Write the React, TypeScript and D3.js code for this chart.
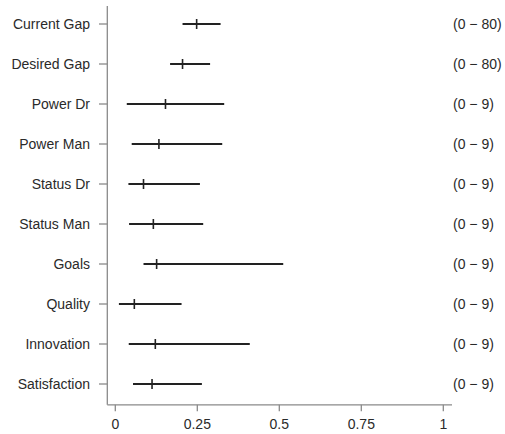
import React from "react";
import * as d3 from "d3";

const categories = ["Current Gap", "Desired Gap", "Power Dr", "Power Man", "Status Dr", "Status Man", "Goals", "Quality", "Innovation", "Satisfaction"];
const lows = [0.205, 0.167, 0.035, 0.050, 0.040, 0.042, 0.086, 0.011, 0.041, 0.054];
const highs = [0.321, 0.289, 0.332, 0.326, 0.258, 0.268, 0.512, 0.202, 0.410, 0.264];
const means = [0.248, 0.205, 0.153, 0.133, 0.086, 0.116, 0.126, 0.058, 0.122, 0.112];
const ranges = ["(0 − 80)", "(0 − 80)", "(0 − 9)", "(0 − 9)", "(0 − 9)", "(0 − 9)", "(0 − 9)", "(0 − 9)", "(0 − 9)", "(0 − 9)"];
const xTicks = [0, 0.25, 0.5, 0.75, 1];
const xTickLabels = ["0", "0.25", "0.5", "0.75", "1"];

export default function App() {
  const x = d3.scaleLinear().domain([0, 1]).range([115.3, 443.3]);
  const y = d3.scalePoint<string>().domain(categories).range([24, 384]);
  const axisX = 107.3;
  const axisY = 404.8;
  const font = "'Liberation Sans', Arial, Helvetica, sans-serif";
  const axisColor = "#8a8a8a";
  const textColor = "#2a2a2a";
  return (
    <svg width={505} height={434} style={{ position: "absolute", left: 0, top: 0, background: "#fff" }} fontFamily={font}>
      {/* y axis */}
      <line x1={axisX} x2={axisX} y1={6} y2={axisY} stroke={axisColor} strokeWidth={1.3} />
      {categories.map((c) => (
        <g key={c}>
          <line x1={99} x2={axisX} y1={y(c)!} y2={y(c)!} stroke={axisColor} strokeWidth={1.3} />
          <text x={90} y={y(c)!} textAnchor="end" dominantBaseline="central" fontSize={14} fill={textColor}>{c}</text>
        </g>
      ))}
      {/* x axis */}
      <line x1={axisX} x2={452} y1={axisY} y2={axisY} stroke={axisColor} strokeWidth={1.3} />
      {xTicks.map((t, i) => (
        <g key={t}>
          <line x1={x(t)} x2={x(t)} y1={axisY} y2={axisY + 6.5} stroke={axisColor} strokeWidth={1.3} />
          <text x={x(t)} y={429} textAnchor="middle" fontSize={14} fill={textColor}>{xTickLabels[i]}</text>
        </g>
      ))}
      {/* intervals */}
      {categories.map((c, i) => (
        <g key={"m" + c}>
          <line x1={x(lows[i])} x2={x(highs[i])} y1={y(c)!} y2={y(c)!} stroke="#222" strokeWidth={2} />
          <line x1={x(means[i])} x2={x(means[i])} y1={y(c)! - 5} y2={y(c)! + 5} stroke="#222" strokeWidth={1.6} />
          <text x={453} y={y(c)!} dominantBaseline="central" fontSize={14} fill={textColor}>{ranges[i]}</text>
        </g>
      ))}
    </svg>
  );
}
